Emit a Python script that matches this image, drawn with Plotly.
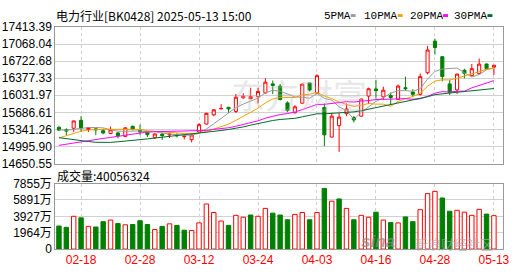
import plotly.graph_objects as go
import pandas as pd

# ---------------- data ----------------
dates = ["02-13","02-14","02-17","02-18","02-19","02-20","02-21","02-24","02-25","02-26","02-27","02-28",
         "03-03","03-04","03-05","03-06","03-07","03-10","03-11","03-12","03-13","03-14","03-17","03-18",
         "03-19","03-20","03-21","03-24","03-25","03-26","03-27","03-28","03-31","04-01","04-02","04-03",
         "04-07","04-08","04-09","04-10","04-11","04-14","04-15","04-16","04-17","04-18","04-21","04-22",
         "04-23","04-24","04-25","04-28","04-29","04-30","05-06","05-07","05-08","05-09","05-12","05-13"]

open_ = [15386,15334,15366,15526,15341,15354,15316,15258,15271,15201,15405,15335,
         15290,15175,15245,15230,15230,15195,15135,15290,15450,15636,15757,15789,
         15706,15981,15962,16006,16080,16262,16217,15878,15680,15872,16281,16074,
         15786,15188,15418,15660,15584,15610,16016,16160,16000,16028,15950,16185,
         16096,16051,16488,17126,16812,16262,16141,16537,16428,16470,16665,16601]
high = [15405,15366,15520,15610,15380,15360,15354,15399,15290,15386,15418,15437,
        15300,15260,15277,15260,15265,15230,15240,15469,15680,15751,15853,15795,
        16058,16070,16185,16185,16377,16330,16262,15910,15834,16270,16285,16454,
        15866,15674,15674,15866,15610,15962,16185,16345,16205,16090,16250,16409,
        16154,16473,17030,17177,16815,16345,16473,16569,16665,16774,16668,16645]
low = [15309,15226,15290,15290,15290,15226,15245,15250,15162,15195,15322,15226,
       15190,15150,15130,15170,15180,15140,15080,15277,15440,15610,15751,15674,
       15674,15962,15955,15866,16065,16058,15930,15690,15661,15860,16109,16058,
       15002,15180,14890,15610,15482,15604,15853,15962,15949,15834,15940,16122,
       15994,16026,16454,16857,16313,16038,16058,16377,16409,16454,16556,16441]
close = [15328,15309,15513,15370,15378,15335,15271,15335,15213,15373,15348,15290,
         15235,15250,15220,15245,15215,15205,15230,15437,15667,15738,15764,15757,
         15993,16013,16005,16109,16298,16232,15945,15725,15798,16256,16138,16428,
         15233,15610,15591,15755,15533,15955,16163,16125,16135,15987,16218,16166,
         16051,16409,16946,16998,16410,16095,16460,16475,16569,16662,16569,16639]

# volume in 万 (10k shares)
volume = [2759,2608,3931,3742,2722,2646,3289,3478,3062,2911,2948,3402,
          2948,2344,2722,3024,2835,2268,2230,3137,5405,4385,3364,2835,
          4045,3818,4082,3931,4876,4309,4082,3515,4158,4385,3515,4385,
          7258,5746,6010,4876,3515,4045,3818,4423,3478,3175,3137,3856,
          3289,4725,6653,6917,6124,4536,4649,4423,4045,4763,4196,4005.6324]

# moving-average values at the start of the window
ma5_head = [15335,15325,15345,15365]
ma10_head = [15170,15215,15265,15305,15330,15340,15345,15345,15342]
ma20_head = [15020,15045,15070,15095,15115,15135,15160,15180,15205,15230,15255,15275,
             15290,15295,15298,15300,15300,15300,15302]
ma30_head = [15175,15152,15132,15115,15097,15082,15078,15080,15092,15104,15112,15132,
             15150,15168,15185,15200,15213,15226,15240,15256,15276,15298,15320,15340,
             15360,15393,15428,15462,15495]

price_ticks = [14650.55,14995.90,15341.26,15686.61,16031.97,16377.33,16722.68,17068.04,17413.39]
vol_ticks = [0,1964,3927,5891,7855]
vol_tick_text = ["0","1964万","3927万","5891万","7855万"]
x_ticks = ["02-18","02-28","03-12","03-24","04-03","04-16","04-28","05-13"]

ma_names = ["5PMA","10PMA","20PMA","30PMA"]
ma_colors = ["#999999","#f5a000","#ff00ff","#006a2a"]

# ---------------- derived ----------------
cs = pd.Series(close, dtype=float)
def ma(n, head):
    r = cs.rolling(n).mean().tolist()
    return head + r[len(head):]
mas = [ma(5, ma5_head), ma(10, ma10_head), ma(20, ma20_head), ma(30, ma30_head)]

RED = "#ff0000"
GREEN = "#008000"
vol_up = []
for i in range(len(close)):
    ref = close[i-1] if i > 0 else open_[i]
    vol_up.append(close[i] >= ref)
vol_line = [RED if u else GREEN for u in vol_up]
vol_fill = ["#ffffff" if u else GREEN for u in vol_up]

W, H = 530, 276
xl, xr = 56/W, 509.5/W
fig = go.Figure()

fig.add_trace(go.Candlestick(
    x=dates, open=open_, high=high, low=low, close=close,
    increasing=dict(line=dict(color=RED, width=1), fillcolor="#ffffff"),
    decreasing=dict(line=dict(color=GREEN, width=1), fillcolor=GREEN),
    whiskerwidth=0, showlegend=False, xaxis="x", yaxis="y"))

for name, col, vals in zip(ma_names, ma_colors, mas):
    fig.add_trace(go.Scatter(x=dates, y=vals, mode="lines", name=name,
                             line=dict(color=col, width=1), showlegend=False,
                             xaxis="x", yaxis="y"))

fig.add_trace(go.Bar(x=dates, y=volume, width=0.6,
                     marker=dict(color=vol_fill, line=dict(color=vol_line, width=1)),
                     showlegend=False, xaxis="x2", yaxis="y2"))

grid = "#d0d0d0"
border = "#999999"
common_x = dict(type="category", tickvals=x_ticks, ticktext=x_ticks,
                showgrid=True, gridcolor=grid, griddash="3px,3px", gridwidth=1,
                showline=True, linecolor=border, linewidth=1, mirror=True,
                zeroline=False, ticks="", fixedrange=True)

fig.update_layout(
    width=W, height=H, margin=dict(l=0, r=0, t=0, b=0),
    paper_bgcolor="white", plot_bgcolor="white",
    boxgap=0.4, bargap=0.4, showlegend=False,
    xaxis=dict(domain=[xl, xr], anchor="y", showticklabels=False, range=[-0.5, 60.2],
               rangeslider=dict(visible=False), **common_x),
    xaxis2=dict(domain=[xl, xr], anchor="y2", matches="x", showticklabels=True,
                tickfont=dict(family="Liberation Sans, Arial", size=12, color=RED), **common_x),
    yaxis=dict(domain=[1-165/H, 1-21/H], range=[price_ticks[0], price_ticks[-1]],
               tickvals=price_ticks, ticktext=[f"{v:.2f}" for v in price_ticks],
               tickfont=dict(family="Liberation Sans, Arial", size=12, color="#000"),
               showgrid=True, gridcolor=grid, showline=True, linecolor=border, mirror=True,
               zeroline=False, ticks="", fixedrange=True),
    yaxis2=dict(domain=[1-255/H, 1-186/H], range=[0, vol_ticks[-1]],
                tickvals=vol_ticks, ticktext=vol_tick_text,
                tickfont=dict(family="Liberation Sans, Noto Sans CJK SC", size=12, color="#000"),
                showgrid=True, gridcolor=grid, showline=True, linecolor=border, mirror=True,
                zeroline=False, ticks="", fixedrange=True),
)

ann = []
ann.append(dict(text="电力行业[BK0428] 2025-05-13 15:00", x=55/W, y=1-9/H, xref="paper", yref="paper",
                xanchor="left", yanchor="middle", showarrow=False,
                font=dict(family="Noto Sans CJK SC", size=12, color="#000")))
ann.append(dict(text=f"成交量:{int(round(volume[-1]*1e4))}", x=56/W, y=1-177/H, xref="paper", yref="paper",
                xanchor="left", yanchor="middle", showarrow=False,
                font=dict(family="Noto Sans CJK SC", size=12, color="#000")))
leg_x = [326, 367, 413, 458]
shapes = []
for name, col, lx in zip(ma_names, ma_colors, leg_x):
    ann.append(dict(text=name, x=lx/W, y=1-9/H, xref="paper", yref="paper", xanchor="left",
                    yanchor="middle", showarrow=False,
                    font=dict(family="Liberation Mono", size=11, color="#000")))
    sx = lx + 6.6*len(name) + 3
    shapes.append(dict(type="rect", xref="paper", yref="paper", x0=sx/W, x1=(sx+5)/W,
                       y0=1-10.5/H, y1=1-7.5/H, fillcolor=col, line=dict(width=0)))
# watermarks
ann.append(dict(text="东方财富", x=303/W, y=1-92/H, xref="paper", yref="paper", showarrow=False,
                xanchor="center", yanchor="middle",
                font=dict(family="Noto Sans CJK SC", size=34, color="rgba(190,190,190,0.35)")))
ann.append(dict(text="<b><i>sina</i></b>", x=383/W, y=1-247/H, xref="paper", yref="paper", showarrow=False,
                xanchor="center", yanchor="middle",
                font=dict(family="Liberation Sans", size=17, color="rgba(140,140,140,0.75)")))
ann.append(dict(text="新浪财经社区", x=460/W, y=1-249/H, xref="paper", yref="paper", showarrow=False,
                xanchor="center", yanchor="middle",
                font=dict(family="Noto Sans CJK SC", size=13, color="rgba(170,170,170,0.7)")))
fig.update_layout(annotations=ann, shapes=shapes)

fig.write_html("out.html")
